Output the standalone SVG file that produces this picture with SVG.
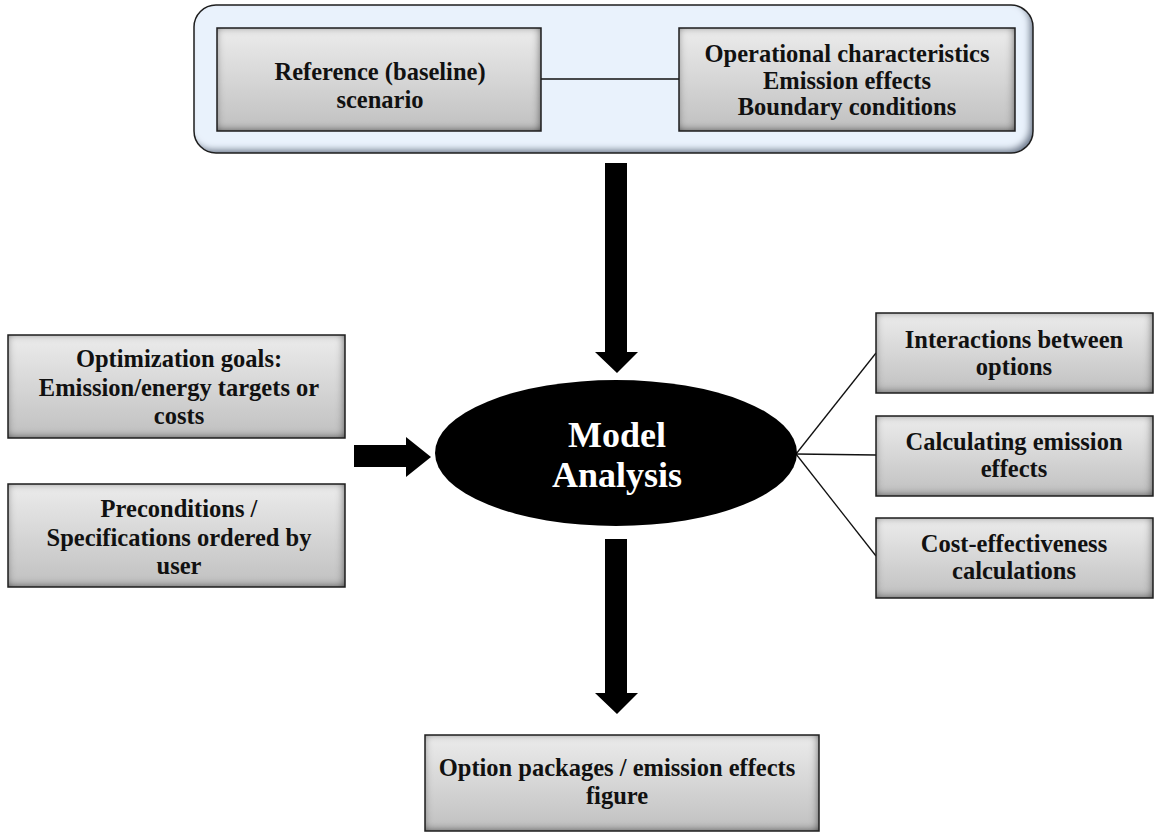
<svg xmlns="http://www.w3.org/2000/svg" width="1155" height="834" viewBox="0 0 1155 834">
<defs>
<style>
.t{font-family:'Liberation Serif','Times New Roman',serif;font-weight:700;font-size:24.5px;text-anchor:middle;fill:#111}
.big{font-family:'Liberation Serif','Times New Roman',serif;font-weight:700;font-size:36px;text-anchor:middle;fill:#fff}
.box{fill:url(#gray);filter:url(#bevel)}
.edge{fill:none;stroke:#1e1e1e;stroke-width:1.5}
.ln{stroke:#111;stroke-width:1.3;fill:none}
.arr{fill:#000}
</style>
<linearGradient id="gray" x1="0" y1="0" x2="0" y2="1">
<stop offset="0" stop-color="#ececec"/>
<stop offset="1" stop-color="#c0c0c0"/>
</linearGradient>
<filter id="bevel" x="-5%" y="-10%" width="110%" height="120%">
<feFlood flood-color="#111" result="f"/>
<feComposite in="f" in2="SourceAlpha" operator="out" result="outside"/>
<feOffset in="outside" dx="-1.5" dy="-1.5" result="off"/>
<feGaussianBlur in="off" stdDeviation="4" result="blur"/>
<feComposite in="blur" in2="SourceAlpha" operator="in" result="inner"/>
<feMerge><feMergeNode in="SourceGraphic"/><feMergeNode in="inner"/></feMerge>
</filter>
<filter id="bevelBlue" x="-5%" y="-10%" width="110%" height="120%">
<feFlood flood-color="#6f7d90" result="f"/>
<feComposite in="f" in2="SourceAlpha" operator="out" result="outside"/>
<feOffset in="outside" dx="-4" dy="-4" result="off"/>
<feGaussianBlur in="off" stdDeviation="3" result="blur"/>
<feComposite in="blur" in2="SourceAlpha" operator="in" result="inner"/>
<feMerge><feMergeNode in="SourceGraphic"/><feMergeNode in="inner"/></feMerge>
</filter>
</defs>
<rect width="1155" height="834" fill="#fff"/>

<g id="container">
<rect x="194" y="5" width="839" height="148" rx="22" fill="#e9f2fc" filter="url(#bevelBlue)"/>
<rect x="194" y="5" width="839" height="148" rx="22" class="edge"/>
</g>

<g id="connectors">
<line class="ln" x1="541" y1="79" x2="679" y2="79"/>
<line class="ln" x1="796" y1="454" x2="876" y2="353"/>
<line class="ln" x1="796" y1="454" x2="876" y2="455"/>
<line class="ln" x1="796" y1="454" x2="876" y2="556"/>
<polygon class="arr" points="605,163 627,163 627,352 638,352 617,373 595,352 605,352"/>
<polygon class="arr" points="605,539 627,539 627,693 638,693 617,714 595,693 605,693"/>
<polygon class="arr" points="354,445 406,445 406,437 431,457 406,477 406,467 354,467"/>
</g>

<g id="reference">
<rect x="217" y="28" width="324" height="103" class="box"/>
<rect x="217" y="28" width="324" height="103" class="edge"/>
<text class="t" x="380" y="80">Reference (baseline)</text>
<text class="t" x="380" y="108">scenario</text>
</g>

<g id="operational">
<rect x="679" y="28" width="336" height="103" class="box"/>
<rect x="679" y="28" width="336" height="103" class="edge"/>
<text class="t" x="847" y="62">Operational characteristics</text>
<text class="t" x="847" y="88.5">Emission effects</text>
<text class="t" x="847" y="115">Boundary conditions</text>
</g>

<g id="optimization">
<rect x="8" y="335" width="337" height="103" class="box"/>
<rect x="8" y="335" width="337" height="103" class="edge"/>
<text class="t" x="179" y="367">Optimization goals:</text>
<text class="t" x="179" y="396">Emission/energy targets or</text>
<text class="t" x="179" y="424">costs</text>
</g>

<g id="preconditions">
<rect x="8" y="484" width="337" height="103" class="box"/>
<rect x="8" y="484" width="337" height="103" class="edge"/>
<text class="t" x="179" y="517">Preconditions /</text>
<text class="t" x="179" y="546">Specifications ordered by</text>
<text class="t" x="179" y="574">user</text>
</g>

<g id="model">
<ellipse cx="616" cy="453" rx="181" ry="73" fill="#000"/>
<text class="big" x="617" y="447">Model</text>
<text class="big" x="617" y="487">Analysis</text>
</g>

<g id="interactions">
<rect x="876" y="313" width="277" height="80" class="box"/>
<rect x="876" y="313" width="277" height="80" class="edge"/>
<text class="t" x="1014" y="348">Interactions between</text>
<text class="t" x="1014" y="375">options</text>
</g>

<g id="calculating">
<rect x="876" y="416" width="277" height="80" class="box"/>
<rect x="876" y="416" width="277" height="80" class="edge"/>
<text class="t" x="1014" y="450">Calculating emission</text>
<text class="t" x="1014" y="477">effects</text>
</g>

<g id="cost">
<rect x="876" y="518" width="277" height="80" class="box"/>
<rect x="876" y="518" width="277" height="80" class="edge"/>
<text class="t" x="1014" y="552">Cost-effectiveness</text>
<text class="t" x="1014" y="579">calculations</text>
</g>

<g id="output">
<rect x="425" y="735" width="394" height="96" class="box"/>
<rect x="425" y="735" width="394" height="96" class="edge"/>
<text class="t" x="617" y="776">Option packages / emission effects</text>
<text class="t" x="617" y="804">figure</text>
</g>
</svg>
